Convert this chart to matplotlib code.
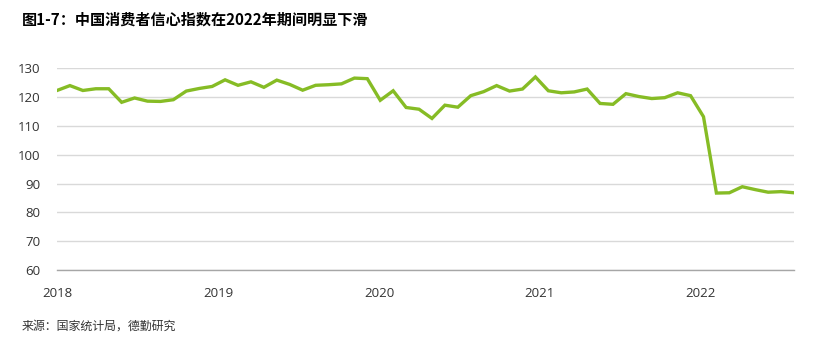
import matplotlib.pyplot as plt

# 消费者信心指数，2018年1月至2022年10月（月度）
values = [
    122.3, 124.0, 122.3, 122.9, 122.9, 118.2, 119.7, 118.6, 118.5, 119.1, 122.1, 123.0,   # 2018
    123.7, 126.0, 124.1, 125.3, 123.4, 125.9, 124.4, 122.4, 124.1, 124.3, 124.6, 126.6,   # 2019
    126.4, 118.9, 122.2, 116.4, 115.8, 112.6, 117.2, 116.5, 120.5, 121.9, 124.0, 122.1,   # 2020
    122.8, 127.0, 122.2, 121.5, 121.8, 122.8, 117.8, 117.5, 121.2, 120.2, 119.5, 119.8,   # 2021
    121.5, 120.5, 113.2, 86.7, 86.8, 88.9, 87.9, 87.0, 87.2, 86.8,                         # 2022
]
year_labels = ['2018', '2019', '2020', '2021', '2022']
y_ticks = [60, 70, 80, 90, 100, 110, 120, 130]

title = '图1-7：中国消费者信心指数在2022年期间明显下滑'
source = '来源：国家统计局，德勤研究'

green = '#86BC25'
cjk = ['Noto Sans CJK SC', 'DejaVu Sans']
num_font = ['Open Sans', 'Noto Sans CJK SC', 'DejaVu Sans']

fig = plt.figure(figsize=(8.32, 3.48), dpi=100)
ax = fig.add_axes([57 / 832, 1 - 270 / 348, (794 - 57) / 832, (270 - 68.3) / 348])

x = list(range(len(values)))
ax.plot(x, values, color=green, linewidth=2.4, solid_joinstyle='miter', zorder=3)

ax.set_xlim(0, len(values) - 1)
ax.set_ylim(60, 130)
ax.set_yticks(y_ticks)
ax.set_yticklabels([str(t) for t in y_ticks], family=num_font, fontsize=9.5, color='#333333')

# 年份标签的间距
step = 12.45
ax.set_xticks([i * step for i in range(len(year_labels))])
ax.set_xticklabels(year_labels, family=num_font, fontsize=9.5, color='#333333')
ax.tick_params(axis='both', length=0)
ax.tick_params(axis='x', pad=12)
ax.tick_params(axis='y', pad=12)

ax.grid(axis='y', color='#d9d9d9', linewidth=1.0)
ax.set_axisbelow(True)
for s in ['top', 'right', 'left']:
    ax.spines[s].set_visible(False)
ax.spines['bottom'].set_color('#a6a6a6')
ax.spines['bottom'].set_linewidth(1.0)
ax.spines['bottom'].set_zorder(4)

fig.text(22 / 832, 1 - 20 / 348, title, family=cjk, fontsize=10.9, fontweight='bold',
         color='#000000', va='center', ha='left')
fig.text(22 / 832, 1 - 326 / 348, source, family=cjk, fontsize=8.6, color='#333333',
         va='center', ha='left')

fig.savefig('out.png', dpi=100)
